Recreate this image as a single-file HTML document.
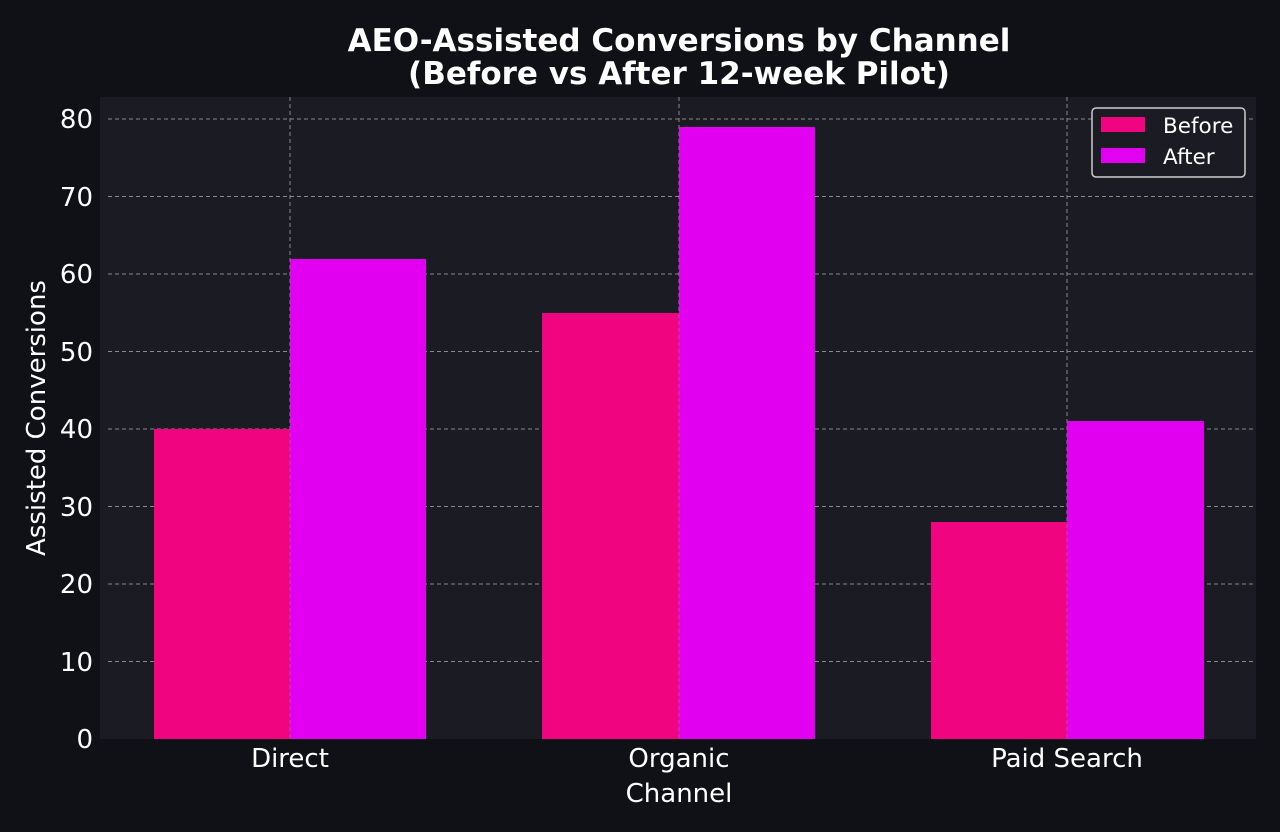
<!DOCTYPE html>
<html><head><style>body{margin:0;background:#0f1117}svg{display:block}</style></head><body>
<svg width="1280" height="832" xmlns="http://www.w3.org/2000/svg" font-family="DejaVu Sans, Liberation Sans, sans-serif">
<rect width="1280" height="832" fill="#0f1117"/>
<rect x="100" y="97" width="1156" height="642" fill="#1a1b23"/>
<g stroke="#888" stroke-width="1" stroke-dasharray="4,3">
<line x1="108" x2="1256" y1="661.5" y2="661.5"/>
<line x1="108" x2="1256" y1="584" y2="584"/>
<line x1="108" x2="1256" y1="506.5" y2="506.5"/>
<line x1="108" x2="1256" y1="429" y2="429"/>
<line x1="108" x2="1256" y1="351.5" y2="351.5"/>
<line x1="108" x2="1256" y1="274" y2="274"/>
<line x1="108" x2="1256" y1="196.5" y2="196.5"/>
<line x1="108" x2="1256" y1="119" y2="119"/>
<line x1="290" x2="290" y1="97" y2="739"/>
<line x1="679" x2="679" y1="97" y2="739"/>
<line x1="1067" x2="1067" y1="97" y2="739"/>
</g>
<g fill="#f0047f">
<rect x="154" y="429" width="136" height="310"/>
<rect x="542" y="313" width="137" height="426"/>
<rect x="931" y="522" width="136" height="217"/>
</g>
<g fill="#e100ef">
<rect x="290" y="259" width="136" height="480"/>
<rect x="679" y="127" width="136" height="612"/>
<rect x="1067" y="421" width="137" height="318"/>
</g>
<g stroke="#888" stroke-width="1" stroke-dasharray="4,3" opacity="0.6">
<line x1="290" x2="290" y1="97" y2="739"/>
<line x1="679" x2="679" y1="97" y2="739"/>
<line x1="1067" x2="1067" y1="97" y2="739"/>
</g>
<g fill="#fff" font-size="26" text-anchor="end">
<text x="93" y="748">0</text><text x="93" y="671">10</text><text x="93" y="593">20</text>
<text x="93" y="516">30</text><text x="93" y="438">40</text><text x="93" y="361">50</text>
<text x="93" y="283">60</text><text x="93" y="206">70</text><text x="93" y="128">80</text>
</g>
<g fill="#fff" font-size="26" text-anchor="middle">
<text x="290" y="767">Direct</text><text x="679" y="767">Organic</text><text x="1067" y="767">Paid Search</text>
<text x="679" y="802">Channel</text>
<text transform="translate(45,418) rotate(-90)">Assisted Conversions</text>
</g>
<g fill="#fff" font-size="31" font-weight="bold" text-anchor="middle">
<text x="679" y="51">AEO-Assisted Conversions by Channel</text>
<text x="679" y="84">(Before vs After 12-week Pilot)</text>
</g>
<rect x="1092" y="108" width="153" height="69" rx="4" fill="#1a1b23" stroke="#ccc" stroke-width="1.5"/>
<rect x="1101" y="117" width="44" height="15" fill="#f0047f"/>
<rect x="1101" y="148" width="44" height="15" fill="#e100ef"/>
<g fill="#fff" font-size="21.5"><text x="1163" y="133">Before</text><text x="1163" y="164">After</text></g>
</svg>
</body></html>
